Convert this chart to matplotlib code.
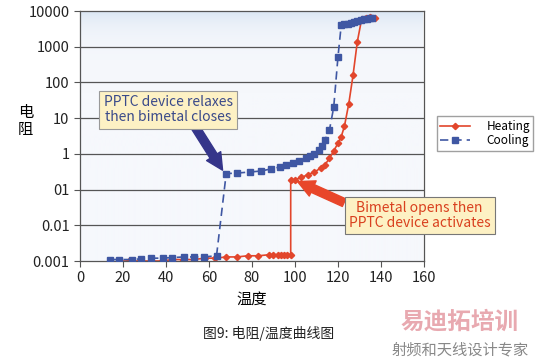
import matplotlib.pyplot as plt
import numpy as np
from matplotlib.colors import LinearSegmentedColormap

plt.rcParams['font.family'] = ['Noto Sans CJK SC', 'DejaVu Sans']

# heating curve (red, solid, diamonds)
heat_t = [18, 23, 28, 33, 38, 43, 48, 53, 58, 63, 68, 73, 78, 83, 88, 90, 92, 93.5, 95, 96.5, 98,
          98, 100, 103, 106, 109, 112, 114, 116, 118, 120, 121.5, 123, 125, 127, 129, 131, 133, 135, 137]
heat_r = [0.001, 0.001, 0.001, 0.001, 0.001, 0.0011, 0.0011, 0.0011, 0.0012, 0.0012, 0.0013, 0.0013,
          0.0014, 0.0014, 0.0015, 0.0015, 0.0015, 0.0015, 0.0015, 0.0015, 0.0015,
          0.18, 0.19, 0.22, 0.26, 0.31, 0.4, 0.5, 0.75, 1.2, 2, 3, 6, 25, 160, 1400, 5900, 6500, 6900, 6300]

# cooling curve (blue, dashed, squares)
cool_t = [14, 18, 24, 28.5, 33, 38.5, 43, 48.5, 53, 57.5, 63.5, 68, 73, 79, 84, 89, 93, 96, 99,
          102, 105, 107, 109, 111, 112.5, 114, 116, 118, 120, 121.5, 123, 124.5, 126, 127.5, 129,
          130.5, 132, 133.5, 135, 136]
cool_r = [0.0011, 0.0011, 0.0011, 0.00115, 0.0012, 0.0012, 0.00125, 0.0013, 0.0013, 0.0013, 0.0014,
          0.28, 0.29, 0.31, 0.33, 0.38, 0.43, 0.48, 0.55, 0.62, 0.75, 0.85, 1.0, 1.3, 1.7, 2.5, 4.6,
          20, 530, 4000, 4200, 4400, 4600, 4900, 5200, 5500, 5800, 6000, 6200, 6300]

x_ticks = [0, 20, 40, 60, 80, 100, 120, 140, 160]
y_ticks = [0.001, 0.01, 0.1, 1, 10, 100, 1000, 10000]
y_labels = ['0.001', '0.01', '01', '1', '10', '100', '1000', '10000']

red = '#e2462c'
blue = '#3f57a3'

fig = plt.figure(figsize=(5.38, 3.61), dpi=100)
ax = fig.add_axes([0.1487, 0.277, 0.6394, 0.6925])

# gradient background of plot area
grad = LinearSegmentedColormap.from_list('bg', ['#f6f8fc', '#d9e5f3'])
ax.imshow(np.linspace(0, 1, 100).reshape(-1, 1), cmap=grad, aspect='auto',
          extent=[0, 160, 0.001, 10000], origin='lower', zorder=0)

ax.set_yscale('log')
ax.set_xlim(0, 160)
ax.set_ylim(0.001, 10000)
for v in y_ticks[1:-1]:
    ax.axhline(v, color='#555555', lw=0.9, zorder=1)

ax.plot(heat_t, heat_r, color=red, lw=1.2, marker='D', ms=3.2, mec=red, mfc=red,
        label='Heating', zorder=2)
ax.plot(cool_t, cool_r, color=blue, lw=1.2, ls=(0, (5, 3)), marker='s', ms=4, mec=blue,
        mfc=blue, label='Cooling', zorder=3)

ax.set_xticks(x_ticks)
ax.set_yticks(y_ticks)
ax.set_yticklabels(y_labels)
ax.minorticks_off()
ax.tick_params(direction='out', length=4, color='#555555', labelsize=10.5, labelcolor='#222222')
for s in ax.spines.values():
    s.set_color('#555555')
    s.set_linewidth(0.9)

ax.set_xlabel('温度', fontsize=11, labelpad=4)
fig.text(0.047, 0.665, '电\n阻', fontsize=11, ha='center', va='center', linespacing=1.0)

# annotations
ax.annotate('', xy=(67, 0.3), xytext=(52, 8),
            arrowprops=dict(arrowstyle='simple,head_width=1.2,head_length=1.2,tail_width=0.6',
                            fc='#35358a', ec='#35358a'), zorder=4)
ax.text(41, 17, 'PPTC device relaxes\nthen bimetal closes', fontsize=10, color='#3a4a8a',
        ha='center', va='center', linespacing=1.1, zorder=5,
        bbox=dict(boxstyle='square,pad=0.3', fc='#fdf1c4', ec='#999999', lw=0.8))

ax.annotate('', xy=(100, 0.18), xytext=(124, 0.04),
            arrowprops=dict(arrowstyle='simple,head_width=1.2,head_length=1.2,tail_width=0.6',
                            fc='#e8462a', ec='#e8462a'), zorder=4)
ax.text(158, 0.019, 'Bimetal opens then\nPPTC device activates', fontsize=10, color='#d9401f',
        ha='center', va='center', linespacing=1.1, zorder=5, clip_on=False,
        bbox=dict(boxstyle='square,pad=0.3', fc='#fdf1c4', ec='#777777', lw=0.8))

leg = ax.legend(loc='center left', bbox_to_anchor=(1.02, 0.51), fontsize=8.5, frameon=True,
                fancybox=False, edgecolor='#888888', handlelength=2.5, borderpad=0.3,
                labelspacing=0.1, handletextpad=1.4)

fig.text(0.5, 0.077, '图9: 电阻/温度曲线图', fontsize=10, ha='center', va='center', color='#222222')
fig.text(0.855, 0.108, '易迪拓培训', fontsize=17, fontweight='bold', ha='center', va='center',
         color='#e6a0a8', alpha=0.9)
fig.text(0.855, 0.03, '射频和天线设计专家', fontsize=11, ha='center', va='center', color='#888888')

fig.savefig('out.png', dpi=100)
